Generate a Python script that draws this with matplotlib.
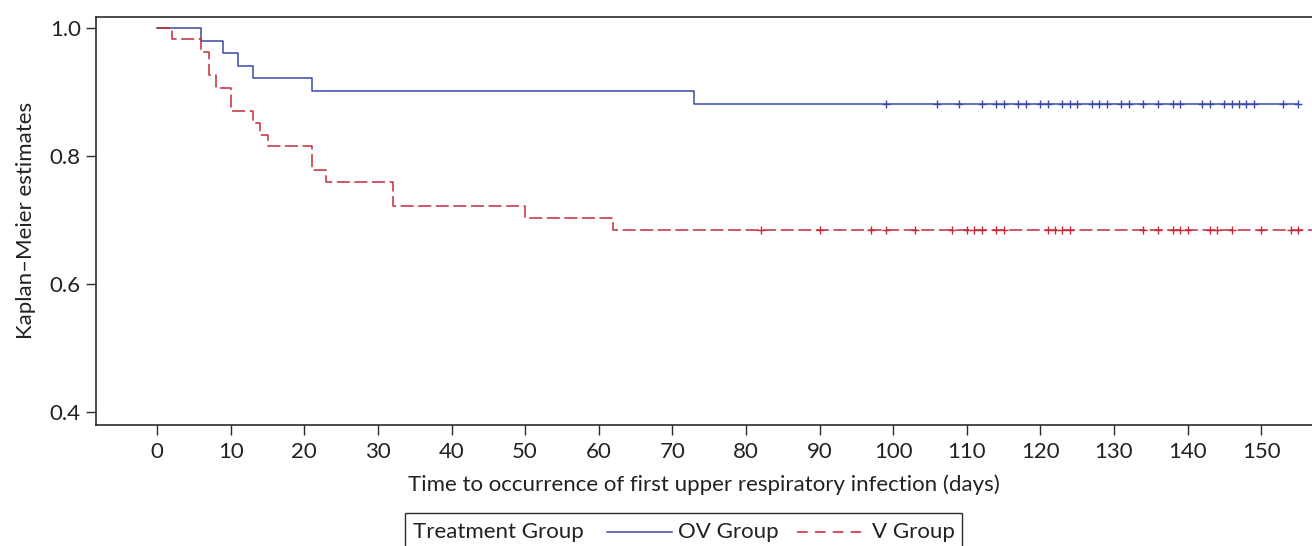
import numpy as np
import matplotlib
matplotlib.use("Agg")
import matplotlib.pyplot as plt
from matplotlib.lines import Line2D
from matplotlib.patches import Rectangle

plt.rcParams['font.family'] = ['Lato', 'DejaVu Sans']

# Kaplan-Meier step data
ov_times = [0, 6, 9, 11, 13, 21, 73]
ov_surv = [1.0, 0.980, 0.961, 0.941, 0.922, 0.902, 0.882]
ov_last = 155
ov_censored = [99, 106, 109, 112, 114, 115, 117, 118, 120, 121, 123, 124, 125,
               127, 128, 129, 131, 132, 134, 136, 138, 139, 142, 143, 145, 146,
               147, 148, 149, 153, 155]

v_times = [0, 2, 6, 7, 8, 10, 13, 14, 15, 21, 23, 32, 50, 62]
v_surv = [1.0, 0.982, 0.963, 0.926, 0.907, 0.870, 0.852, 0.833, 0.815,
          0.778, 0.759, 0.722, 0.704, 0.685]
v_last = 158
v_censored = [82, 90, 97, 99, 103, 108, 110, 111, 112, 114, 115, 121, 122, 123,
              124, 134, 136, 138, 139, 140, 143, 144, 146, 150, 154, 155]

x_ticks = list(range(0, 151, 10))
y_ticks = [0.4, 0.6, 0.8, 1.0]

blue = '#3a4aa6'
red = '#c42a38'
dark = '#2b2b2b'
txt = '#222222'
fs = 16


def surv_at(times, surv, t):
    idx = np.searchsorted(times, t, side='right') - 1
    return np.asarray(surv)[idx]


fig = plt.figure(figsize=(13.12, 5.46), dpi=100)
ax = fig.add_axes([96 / 1312, 121 / 546, 1216 / 1312, 408.3 / 546])

ax.step(ov_times + [ov_last], ov_surv + [ov_surv[-1]], where='post',
        color=blue, lw=1.1)
ax.plot(ov_censored, surv_at(ov_times, ov_surv, ov_censored), ls='none',
        marker='+', ms=5.5, mew=1.0, color=blue)

ax.step(v_times + [v_last], v_surv + [v_surv[-1]], where='post',
        color=red, lw=1.1, dashes=(8.5, 3))
ax.plot(v_censored, surv_at(v_times, v_surv, v_censored), ls='none',
        marker='+', ms=5.5, mew=1.0, color=red)

ax.set_xlim(-8.3, 156.9)
ax.set_ylim(0.380, 1.0176)
ax.set_xticks(x_ticks)
ax.set_yticks(y_ticks)
ax.set_yticklabels([f'{v:.1f}' for v in y_ticks])
ax.tick_params(axis='both', length=7, width=1.0, color=dark, labelcolor=txt,
               labelsize=fs, pad=4)
ax.tick_params(axis='x', pad=5)
for side in ['left', 'top', 'bottom']:
    ax.spines[side].set_color(dark)
    ax.spines[side].set_linewidth(1.2)
ax.spines['right'].set_visible(False)

ax.set_xlabel('Time to occurrence of first upper respiratory infection (days)',
              fontsize=fs, color=txt, labelpad=9)
ax.set_ylabel('Kaplan\u2013Meier estimates', fontsize=fs, color=txt,
              labelpad=10)

# legend box drawn like the SAS one
W, H = 1312, 546
fig.add_artist(Rectangle((405 / W, -0.02), (962 - 405) / W, (546 - 513) / H + 0.02,
                         transform=fig.transFigure, fill=False, ec=dark, lw=1.0))
ty = 1 - 532 / H
fig.text(413 / W, ty, 'Treatment Group', fontsize=fs, color=txt, va='center')
fig.add_artist(Line2D([607 / W, 672 / W], [ty, ty], transform=fig.transFigure,
                      color=blue, lw=1.1))
fig.text(678 / W, ty, 'OV Group', fontsize=fs, color=txt, va='center')
fig.add_artist(Line2D([797 / W, 861 / W], [ty, ty], transform=fig.transFigure,
                      color='#d0202e', lw=1.1, dashes=(7, 4.7)))
fig.text(872 / W, ty, 'V Group', fontsize=fs, color=txt, va='center')

fig.savefig('out.png', dpi=100)
